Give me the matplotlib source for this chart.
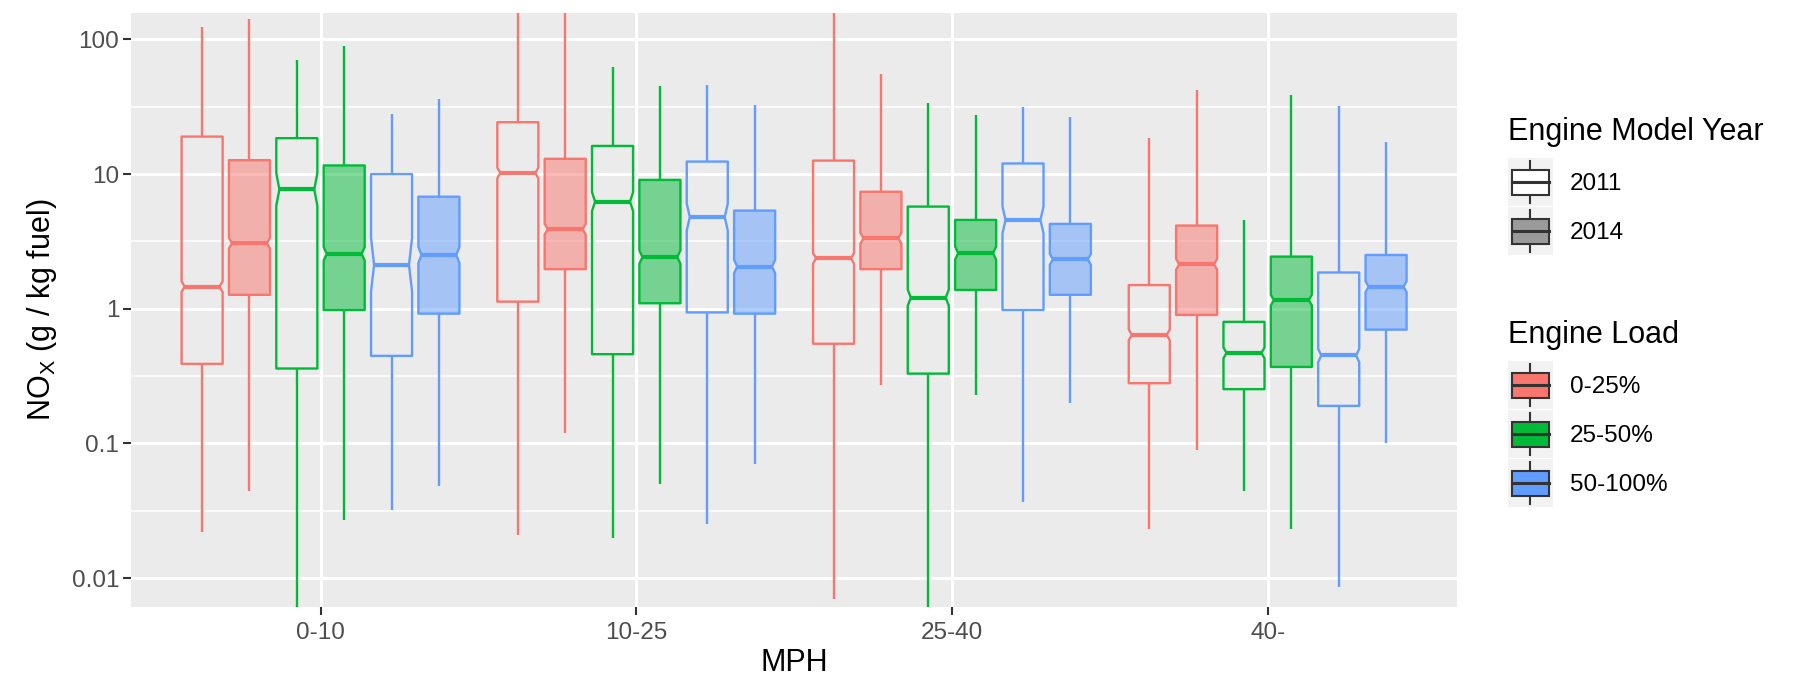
import numpy as np
import matplotlib
matplotlib.use("Agg")
import matplotlib.pyplot as plt
from matplotlib.patches import Polygon, Rectangle, Patch
from matplotlib.lines import Line2D
from matplotlib.legend_handler import HandlerBase
from matplotlib.colors import to_rgba
from matplotlib.ticker import FixedLocator, NullFormatter

plt.rcParams["font.family"] = ["Liberation Sans", "DejaVu Sans"]
plt.rcParams["mathtext.fontset"] = "custom"
plt.rcParams["mathtext.rm"] = "Liberation Sans"

mph_bins = ["0-10", "10-25", "25-40", "40-"]
loads = ["0-25%", "25-50%", "50-100%"]
years = ["2011", "2014"]
load_colors = ["#F8766D", "#00BA38", "#619CFF"]

# rows: MPH bins; columns: (0-25% 2011, 0-25% 2014, 25-50% 2011, 25-50% 2014, 50-100% 2011, 50-100% 2014)
whisker_lo = [
    [0.022, 0.044, 0.004, 0.027, 0.032, 0.048],
    [0.021, 0.12, 0.020, 0.05, 0.025, 0.070],
    [0.007, 0.27, 0.004, 0.23, 0.037, 0.20],
    [0.023, 0.09, 0.044, 0.023, 0.0086, 0.101],
]
q1 = [
    [0.39, 1.27, 0.36, 0.98, 0.447, 0.92],
    [1.13, 1.97, 0.46, 1.1, 0.94, 0.92],
    [0.55, 1.97, 0.33, 1.38, 0.98, 1.27],
    [0.28, 0.90, 0.253, 0.37, 0.19, 0.70],
]
median = [
    [1.46, 3.07, 7.7, 2.56, 2.12, 2.51],
    [10.2, 3.9, 6.25, 2.42, 4.8, 2.06],
    [2.37, 3.34, 1.21, 2.59, 4.57, 2.33],
    [0.64, 2.14, 0.47, 1.16, 0.45, 1.46],
]
q3 = [
    [19.0, 12.7, 18.5, 11.6, 10.0, 6.8],
    [24.3, 13.0, 16.2, 9.06, 12.4, 5.36],
    [12.6, 7.4, 5.74, 4.57, 12.0, 4.27],
    [1.5, 4.15, 0.80, 2.44, 1.86, 2.51],
]
whisker_hi = [
    [124, 141, 71, 89.5, 27.8, 36],
    [170, 170, 62.8, 45, 46, 32.6],
    [160, 55.5, 33.6, 27.5, 31.4, 26.7],
    [18.5, 42, 4.57, 39, 32, 17.4],
]
# notch half-height, in decades
notch_half = [
    [0.04, 0.04, 0.12, 0.05, 0.20, 0.06],
    [0.04, 0.04, 0.07, 0.05, 0.10, 0.05],
    [0.04, 0.04, 0.06, 0.05, 0.10, 0.04],
    [0.04, 0.04, 0.04, 0.04, 0.05, 0.04],
]


class BoxKey(HandlerBase):
    def create_artists(self, legend, orig_handle, xdescent, ydescent,
                       width, height, fontsize, trans):
        x0, y0 = -xdescent, -ydescent
        cx = x0 + width / 2
        edge = "#333333"
        bg = Rectangle((x0, y0), width, height, facecolor="#F2F2F2",
                       edgecolor="none", transform=trans)
        wl = Line2D([cx, cx], [y0 + 0.06 * height, y0 + 0.24 * height],
                    color=edge, lw=1.5, transform=trans)
        wh = Line2D([cx, cx], [y0 + 0.76 * height, y0 + 0.94 * height],
                    color=edge, lw=1.5, transform=trans)
        box = Rectangle((x0 + 0.09 * width, y0 + 0.24 * height), 0.82 * width,
                        0.52 * height, facecolor=orig_handle.get_facecolor(),
                        edgecolor=edge, lw=1.5, transform=trans)
        med = Line2D([x0 + 0.09 * width, x0 + 0.91 * width],
                     [y0 + height / 2] * 2, color=edge, lw=2.2, transform=trans)
        return [bg, wl, wh, box, med]


fig = plt.figure(figsize=(17.98, 6.79), dpi=100)
ax = fig.add_axes([0.0729, 0.1060, 0.7375, 0.8749])
ax.set_facecolor("#EBEBEB")
for s in ax.spines.values():
    s.set_visible(False)

slot = 0.15
box_w = 0.13
inset = 0.075 * box_w
lw = 1.7

for i in range(len(mph_bins)):
    for j in range(6):
        li, yi = divmod(j, 2)
        col = load_colors[li]
        x = i + (j - 2.5) * slot
        lo, a, m, b, hi = (whisker_lo[i][j], q1[i][j], median[i][j],
                           q3[i][j], whisker_hi[i][j])
        ax.vlines([x, x], [lo, b], [a, hi], colors=col, lw=lw, zorder=2)
        nh = notch_half[i][j]
        nlo = max(a, m / 10 ** nh)
        nhi = min(b, m * 10 ** nh)
        left, right = x - box_w / 2, x + box_w / 2
        verts = [(left, a), (right, a), (right, nlo), (right - inset, m),
                 (right, nhi), (right, b), (left, b), (left, nhi),
                 (left + inset, m), (left, nlo)]
        face = to_rgba(col, 0.5) if yi == 1 else "none"
        ax.add_patch(Polygon(verts, closed=True, facecolor=face, edgecolor=col,
                             lw=lw, joinstyle="round", zorder=3))
        ax.plot([left + inset, right - inset], [m, m], color=col, lw=3.0,
                solid_capstyle="butt", zorder=4)

ax.set_yscale("log")
ax.set_ylim(10 ** -2.215, 10 ** 2.197)
ax.set_xlim(-0.6, len(mph_bins) - 0.4)

yt = [0.01, 0.1, 1, 10, 100]
ax.yaxis.set_major_locator(FixedLocator(yt))
ax.set_yticklabels(["0.01", "0.1", "1", "10", "100"])
ax.yaxis.set_minor_locator(FixedLocator([10 ** (k + 0.5) for k in range(-3, 3)]))
ax.yaxis.set_minor_formatter(NullFormatter())
ax.set_xticks(range(len(mph_bins)))
ax.set_xticklabels(mph_bins)

ax.grid(which="major", color="white", lw=2.2)
ax.grid(which="minor", axis="y", color="white", lw=1.1)
ax.set_axisbelow(True)
ax.tick_params(which="major", length=5.5, width=1.5, color="#333333",
               labelcolor="#4D4D4D", labelsize=17.5, pad=3)
ax.tick_params(axis="x", which="major", pad=5)
ax.tick_params(which="minor", length=0)

ax.set_xlabel("MPH", fontsize=22, labelpad=3)
ax.set_ylabel(r"NO$_\mathregular{X}$ (g / kg fuel)", fontsize=22, labelpad=9)

leg_kw = dict(loc="upper left", frameon=False, borderpad=0, borderaxespad=0,
              fontsize=17.5, title_fontsize=22, handlelength=1.85,
              handleheight=2.66, labelspacing=0.04, handletextpad=0.7,
              alignment="left", handler_map={Patch: BoxKey()})

year_handles = [Patch(facecolor="white"), Patch(facecolor="#9A9A9A")]
leg1 = fig.legend(year_handles, years, title="Engine Model Year",
                  bbox_to_anchor=(0.8387, 0.8284), **leg_kw)
leg1._legend_box.sep = 8.5

load_handles = [Patch(facecolor=c) for c in load_colors]
leg2 = fig.legend(load_handles, loads, title="Engine Load",
                  bbox_to_anchor=(0.8387, 0.5294), **leg_kw)
leg2._legend_box.sep = 8.5

fig.savefig("out.png", dpi=100, facecolor="white")
